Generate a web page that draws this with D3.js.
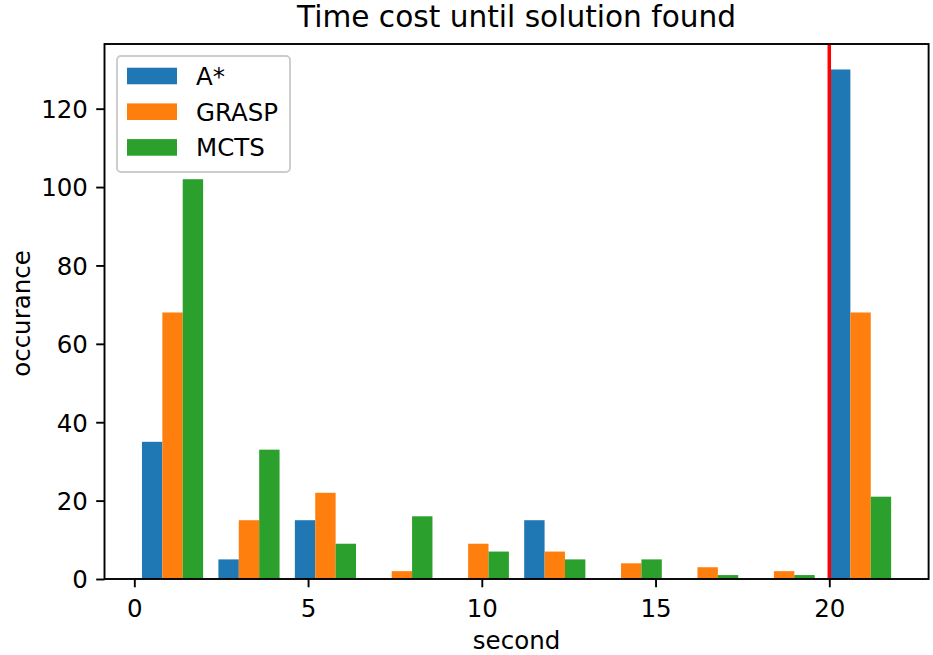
<!DOCTYPE html>
<html>
<head>
<meta charset="utf-8">
<script src="https://cdn.jsdelivr.net/npm/d3@7/dist/d3.min.js"></script>
<style>
  html, body { margin: 0; padding: 0; background: #fff; }
  svg { display: block; font-family: "DejaVu Sans", sans-serif; }
</style>
</head>
<body>
<svg id="chart" width="933" height="655"></svg>
<script>
// Histogram bin edges (seconds) and per-bin counts for each solver
const binEdges = [0, 2.2, 4.4, 6.6, 8.8, 11, 13.2, 15.4, 17.6, 19.8, 22];
const seriesNames = ["A*", "GRASP", "MCTS"];
const aStarCounts = [35, 5, 15, 0, 0, 15, 0, 0, 0, 130];
const graspCounts = [68, 15, 22, 2, 9, 7, 4, 3, 2, 68];
const mctsCounts  = [102, 33, 9, 16, 7, 5, 5, 1, 1, 21];
const seriesColors = ["#1f77b4", "#ff7f0e", "#2ca02c"];
const xTickValues = [0, 5, 10, 15, 20];
const yTickValues = [0, 20, 40, 60, 80, 100, 120];
const timeLimit = 20;

const series = [aStarCounts, graspCounts, mctsCounts];

const svg = d3.select("#chart");
const plotLeft = 104.5, plotRight = 928.6, plotTop = 44, plotBottom = 579;

const x = d3.scaleLinear().domain([-0.858, 22.858]).range([plotLeft, plotRight]);
const y = d3.scaleLinear().domain([0, 136.5]).range([plotBottom, plotTop]);

const fontSize = 24.5;

// Bars: each bin holds three side-by-side bars occupying 80% of the bin width
const bars = svg.append("g");
series.forEach((counts, j) => {
  counts.forEach((c, i) => {
    const w = binEdges[i + 1] - binEdges[i];
    const bw = 0.8 * w / 3;
    const x0 = binEdges[i] + 0.1 * w + j * bw;
    if (c <= 0) return;
    bars.append("rect")
      .attr("x", x(x0))
      .attr("y", y(c))
      .attr("width", x(x0 + bw) - x(x0))
      .attr("height", y(0) - y(c))
      .attr("fill", seriesColors[j]);
  });
});

// Time limit marker
svg.append("line")
  .attr("x1", x(timeLimit)).attr("x2", x(timeLimit))
  .attr("y1", plotTop).attr("y2", plotBottom)
  .attr("stroke", "#ff0000").attr("stroke-width", 3.5);

// Axes
const xAxis = d3.axisBottom(x).tickValues(xTickValues).tickSize(8.3).tickPadding(8.3).tickFormat(d3.format("d"));
const yAxis = d3.axisLeft(y).tickValues(yTickValues).tickSize(8.3).tickPadding(8.3).tickFormat(d3.format("d"));

const gx = svg.append("g").attr("transform", `translate(0,${plotBottom})`).call(xAxis);
const gy = svg.append("g").attr("transform", `translate(${plotLeft},0)`).call(yAxis);
[gx, gy].forEach(g => {
  g.select(".domain").remove();
  g.selectAll(".tick line").attr("stroke", "#000").attr("stroke-width", 1.9);
  g.selectAll(".tick text").attr("fill", "#000")
    .style("font-size", fontSize + "px")
    .style("font-family", "DejaVu Sans, sans-serif");
});
gx.selectAll(".tick text").attr("dy", null).attr("y", 37.5);
gy.selectAll(".tick text").attr("dy", "0.36em");

// Spines
svg.append("rect")
  .attr("x", plotLeft).attr("y", plotTop)
  .attr("width", plotRight - plotLeft).attr("height", plotBottom - plotTop)
  .attr("fill", "none").attr("stroke", "#000").attr("stroke-width", 1.9);

// Title and axis labels
svg.append("text")
  .attr("x", (plotLeft + plotRight) / 2).attr("y", 27)
  .attr("text-anchor", "middle")
  .style("font-size", "29.6px")
  .text("Time cost until solution found");

svg.append("text")
  .attr("x", (plotLeft + plotRight) / 2).attr("y", 649)
  .attr("text-anchor", "middle")
  .style("font-size", fontSize + "px")
  .text("second");

svg.append("text")
  .attr("transform", `translate(30,${(plotTop + plotBottom) / 2 + 2}) rotate(-90)`)
  .attr("text-anchor", "middle")
  .style("font-size", fontSize + "px")
  .text("occurance");

// Legend
const legend = svg.append("g");
legend.append("rect")
  .attr("x", 117).attr("y", 56).attr("width", 173).attr("height", 116)
  .attr("rx", 4).attr("ry", 4)
  .attr("fill", "#fff").attr("fill-opacity", 0.8)
  .attr("stroke", "#cccccc").attr("stroke-width", 1.9);
const rowCenters = [76, 111.7, 147.4];
seriesNames.forEach((name, j) => {
  legend.append("rect")
    .attr("x", 127).attr("y", rowCenters[j] - 8.3)
    .attr("width", 50).attr("height", 16.6)
    .attr("fill", seriesColors[j]);
  legend.append("text")
    .attr("x", 196).attr("y", rowCenters[j] + 8.8)
    .style("font-size", fontSize + "px")
    .text(name);
});
</script>
</body>
</html>
